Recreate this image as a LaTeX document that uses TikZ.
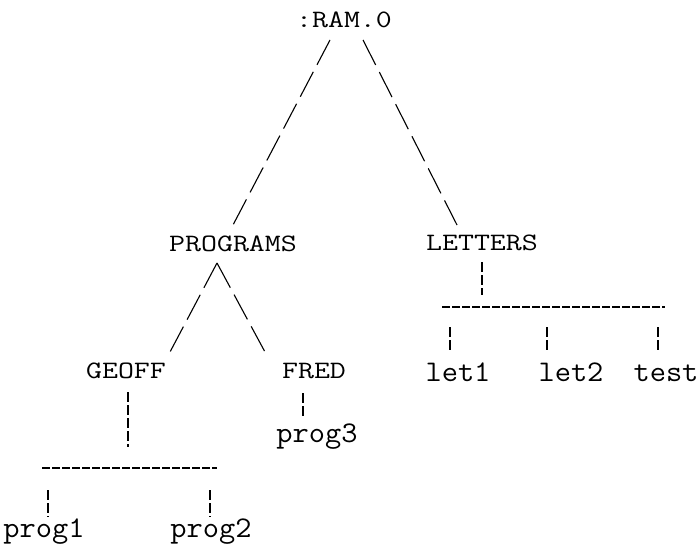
\documentclass[tikz,border=0pt]{standalone}
\usepackage{fontspec}
\newcommand\dirname[1]{\scalebox{1.24}[1]{\fontsize{12.5}{15}\selectfont#1}}
\newcommand\filename[1]{\scalebox{1.05}[1]{\fontsize{15}{18}\selectfont#1}}
\begin{document}
\begin{tikzpicture}[x=0.5pt, y=-0.5pt,
        dir/.style={anchor=base, inner sep=0pt, font=\ttfamily},
        branch/.style={line width=0.55pt, dash pattern=on 14pt off 4pt},
        stem/.style={line width=0.55pt, dash pattern=on 5pt off 1.5pt},
        bar/.style={line width=0.55pt, dash pattern=on 4pt off 1pt}]
        \useasboundingbox (0, 0) rectangle (699, 545);

        \node[dir] (ram) at (344, 28) {\dirname{:RAM.0}};
        \node[dir] (programs) at (233, 251) {\dirname{PROGRAMS}};
        \node[dir] (letters) at (482, 250) {\dirname{LETTERS}};
        \node[dir] (geoff) at (126, 378) {\dirname{GEOFF}};
        \node[dir] (fred) at (314, 378) {\dirname{FRED}};
        \node[dir] (prog3) at (317, 442) {\filename{prog3}};
        \node[dir] (let1) at (458, 381) {\filename{let1}};
        \node[dir] (let2) at (571, 381) {\filename{let2}};
        \node[dir] (test) at (666, 381) {\filename{test}};
        \node[dir] (prog1) at (44, 537) {\filename{prog1}};
        \node[dir] (prog2) at (211, 537) {\filename{prog2}};

        \coordinate (lstem) at (482, 295);
        \coordinate (lbarl) at (442, 307);
        \coordinate (lbarr) at (665, 307);
        \coordinate (gstem) at (128, 447);
        \coordinate (gbarl) at (42, 468);
        \coordinate (gbarr) at (217, 468);

        \draw[branch] ([shift={(-14,12)}]ram.base) -- ([shift={(0,-26)}]programs.base);
        \draw[branch] ([shift={(19,12)}]ram.base) -- ([shift={(-25,-25)}]letters.base);
        \draw[branch] ([shift={(-16,12)}]programs.base) -- ([shift={(44,-26)}]geoff.base);
        \draw[branch] ([shift={(-16,12)}]programs.base) -- ([shift={(-49,-26)}]fred.base);

        \draw[stem] ([shift={(0,12)}]letters.base) -- (lstem);
        \draw[bar] (lbarl) -- (lbarr);
        \draw[stem] ([shift={(-8,-54)}]let1.base) -- ([shift={(-8,-29)}]let1.base);
        \draw[stem] ([shift={(-24,-54)}]let2.base) -- ([shift={(-24,-29)}]let2.base);
        \draw[stem] ([shift={(-8,-54)}]test.base) -- ([shift={(-8,-29)}]test.base);

        \draw[stem] ([shift={(2,14)}]geoff.base) -- (gstem);
        \draw[bar] (gbarl) -- (gbarr);
        \draw[stem] ([shift={(4,-47)}]prog1.base) -- ([shift={(4,-20)}]prog1.base);
        \draw[stem] ([shift={(-1,-47)}]prog2.base) -- ([shift={(-1,-20)}]prog2.base);

        \draw[stem] ([shift={(-11,15)}]fred.base) -- ([shift={(-14,-25)}]prog3.base);
    \end{tikzpicture}
\end{document}
